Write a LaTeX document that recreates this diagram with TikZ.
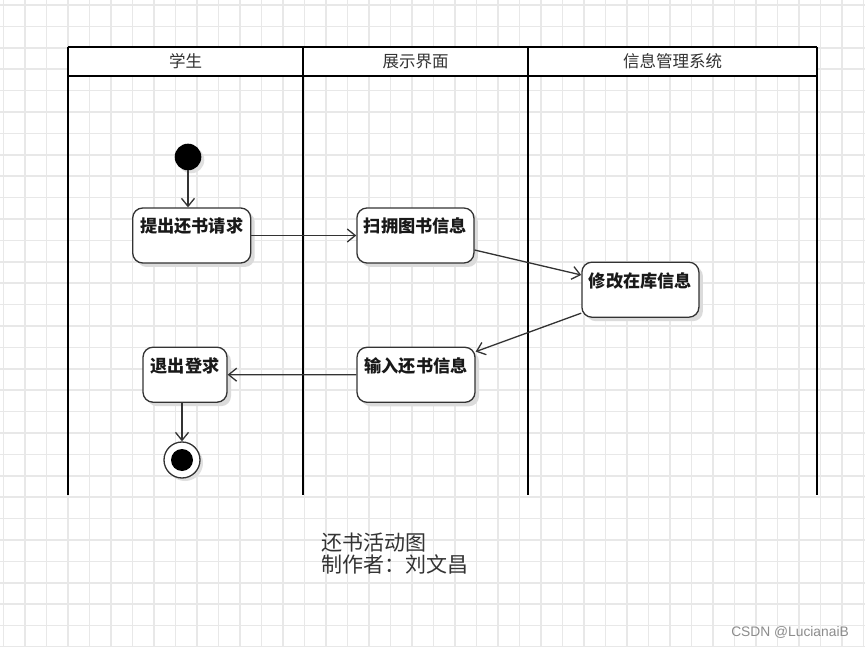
\documentclass[tikz,border=0pt]{standalone}
\usepackage{fontspec}
\newfontfamily\cjk{Noto Sans CJK SC}
\newfontfamily\lat{Liberation Sans}
\usetikzlibrary{arrows.meta,shadows,calc}
\tikzset{
  gridline/.style={draw=black!9, line width=1.6pt},
  lane/.style={draw=black, line width=2.4pt},
  hdr/.style={font=\cjk\fontsize{16.5}{19}\selectfont, text=black!80},
  act/.style={draw=black!80, line width=1.3pt, rounded corners=10pt, fill=white,
    font=\cjk\bfseries\fontsize{17.2}{19}\selectfont, text=black!90,
    inner xsep=4pt, inner ysep=7pt, text height=18pt, text depth=23pt, align=center,
    drop shadow={shadow xshift=4pt, shadow yshift=-4pt, fill=black!14, opacity=1}},
  flow/.style={draw=black!80, line width=1.3pt, -{Straight Barb[length=8pt,width=13pt]}},
}
\begin{document}
\begin{tikzpicture}[x=1pt,y=-1pt]
\useasboundingbox (0,0) rectangle (865,647);
\fill[white] (0,0) rectangle (865,647);
% grid
\foreach \i in {0,...,40} \draw[gridline] ({3.5+21.5*\i},0) -- ({3.5+21.5*\i},647);
\foreach \j in {0,...,30} \draw[gridline] (0,{5+21.4*\j}) -- (865,{5+21.4*\j});
% swimlanes
\fill[white] (68,47) rectangle (817,76);
\draw[lane] (68,47) -- (817,47);
\draw[lane] (68,76) -- (817,76);
\draw[lane] (68,47) -- (68,495);
\draw[lane] (303,47) -- (303,495);
\draw[lane] (528,47) -- (528,495);
\draw[lane] (817,47) -- (817,495);
\node[hdr] (h1) at (185.5,61.5) {学生};
\node[hdr] (h2) at (415.5,61.5) {展示界面};
\node[hdr] (h3) at (672.5,61.5) {信息管理系统};
% start / end
\fill[black!12] (191,160) circle (13.3);
\node[circle, fill=black, minimum size=26.6pt, inner sep=0pt] (start) at (188,157) {};
\fill[black!12] (185,463) circle (18);
\node[circle, draw=black!80, line width=1.3pt, fill=white, minimum size=36pt, inner sep=0pt] (end) at (182,460) {};
\fill[black] (end.center) circle (11);
% activities
\node[act, minimum width=118pt] (a1) at (191.7,235.5) {提出还书请求};
\node[act, minimum width=117pt] (a2) at (415.4,235.5) {扫拥图书信息};
\node[act, minimum width=117pt] (a3) at (640.4,289.7) {修改在库信息};
\node[act, minimum width=118pt] (a4) at (416,374.8) {输入还书信息};
\node[act, minimum width=84pt] (a5) at (185,374.7) {退出登求};
% flows
\draw[flow] (start) -- (start |- a1.north);
\draw[flow] (a1) -- (a2);
\draw[flow] ($(a2.east)+(0,14.5)$) -- ($(a3.west)+(0,-14.7)$);
\draw[flow] ($(a3.south west)+(0,-4.7)$) -- ($(a4.north east)+(0,5)$);
\draw[flow] (a4) -- (a5);
\draw[flow] (a5.south -| end) -- (end);
% caption
\node[anchor=north west, align=left, font=\cjk\fontsize{21}{22}\selectfont, text=black!80, inner sep=0pt] (cap) at (321,533) {还书活动图\\制作者：刘文昌};
\node[anchor=east, font=\lat\fontsize{13.8}{15}\selectfont, text=black!45, inner sep=0pt] (wm) at (849,632) {CSDN @LucianaiB};
\end{tikzpicture}
\end{document}
